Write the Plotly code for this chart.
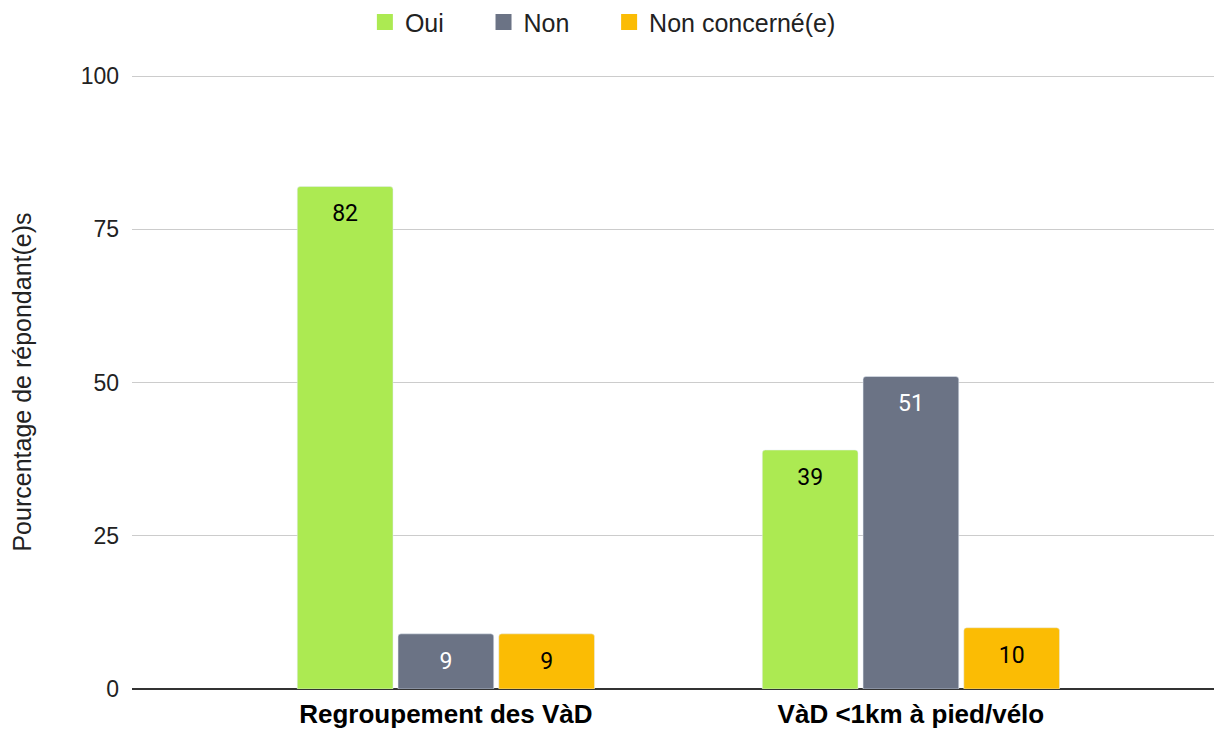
import plotly.graph_objects as go

categories = ["Regroupement des VàD", "VàD <1km à pied/vélo"]
oui = [82, 39]
non = [9, 51]
non_concerne = [9, 10]

pad = "\u00a0" * 5  # wider spacing between legend entries
series = [
    ("Oui" + pad, oui, "#acea52", "black"),
    ("Non" + pad, non, "#6b7385", "white"),
    ("Non concerné(e)", non_concerne, "#fbbc04", "black"),
]

fig = go.Figure()
for name, vals, color, tcol in series:
    fig.add_trace(go.Bar(
        x=categories,
        y=vals,
        name=name,
        marker_color=color,
        text=vals,
        # small spacer line so the value sits a bit lower below the bar top
        texttemplate="<span style='font-size:2px'> </span><br>%{y}",
        textposition="inside",
        insidetextanchor="end",
        textfont=dict(color=tcol, size=23, family="Roboto"),
        showlegend=False,
    ))
    # legend entry with a bigger square swatch
    fig.add_trace(go.Scatter(
        x=[None], y=[None],
        mode="markers",
        name=name,
        marker=dict(symbol="square", size=26, color=color),
    ))

# page body has an 8px margin, so the figure is shifted by 8px
fig.update_layout(
    width=1214,
    height=730,
    plot_bgcolor="white",
    paper_bgcolor="white",
    barmode="group",
    bargap=0.35,
    bargroupgap=0.05,
    barcornerradius=3,
    margin=dict(l=124, r=0, t=67, b=49, autoexpand=False),
    font=dict(family="Liberation Sans, Arial", size=23, color="#222"),
    legend=dict(
        orientation="h",
        x=0.432, xanchor="center",
        y=1.086, yanchor="middle",
        font=dict(size=25),
        itemsizing="trace",
    ),
    xaxis=dict(
        range=[-0.675, 1.669],
        showgrid=False,
        automargin=False,
        tickfont=dict(size=26, family="Liberation Sans, Arial", color="black"),
        tickprefix="<b>", ticksuffix="</b>",
        ticks="",
        ticklabelstandoff=7,
    ),
    yaxis=dict(
        range=[0, 100.2],
        tickvals=[0, 25, 50, 75, 100],
        gridcolor="#cccccc",
        zeroline=True,
        zerolinecolor="#333333",
        zerolinewidth=1.5,
        automargin=False,
        ticks="",
        ticklabelstandoff=12,
        title=dict(text="Pourcentage de répondant(e)s", font=dict(size=25), standoff=43),
    ),
)

fig.write_html("out.html")
